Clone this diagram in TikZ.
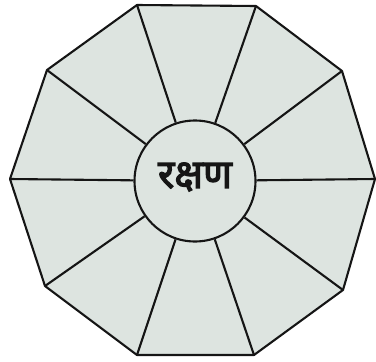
\documentclass[tikz,border=0pt]{standalone}
\usepackage{fontspec}
\newfontfamily\devfont[Script=Devanagari,FakeBold=3]{Noto Sans}
\definecolor{panelgray}{HTML}{DDE4E0}
\definecolor{inkblack}{HTML}{151515}
\usetikzlibrary{positioning}

\begin{document}
\begin{tikzpicture}[x=1pt,y=-1pt,
  edge/.style={inkblack,line width=2.1pt,line join=round},
  hub/.style={circle,draw=inkblack,line width=2.1pt,fill=panelgray,minimum size=121pt,inner sep=0pt},
  label/.style={font=\devfont\fontsize{40}{44}\selectfont,inkblack}]
  \useasboundingbox (0,0) rectangle (376,362);

  % Corners of the decagon
  \coordinate (v0) at (375,179);
  \coordinate (v1) at (342,71);
  \coordinate (v2) at (256,6);
  \coordinate (v3) at (137,5);
  \coordinate (v4) at (47,70);
  \coordinate (v5) at (10,179);
  \coordinate (v6) at (45,286);
  \coordinate (v7) at (137,355);
  \coordinate (v8) at (254,355);
  \coordinate (v9) at (343,290);

  % Outline
  \draw[edge,fill=panelgray] (v0) -- (v1) -- (v2) -- (v3) -- (v4) -- (v5)
    -- (v6) -- (v7) -- (v8) -- (v9) -- cycle;

  % Centre
  \node[hub] (c) at (195,181) {};
  \node[label] (word) at (195,177) {रक्षण};

  % Spokes
  \foreach \i in {0,...,9}
    \draw[edge] (c) -- (v\i);
\end{tikzpicture}
\end{document}
